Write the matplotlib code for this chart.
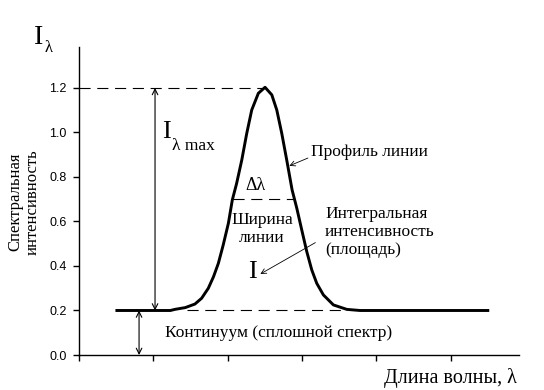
import matplotlib
matplotlib.use("Agg")
import matplotlib.pyplot as plt

# line profile (wavelength in tick units, intensity)
wave = [0.51, 1.23, 1.29, 1.43, 1.56, 1.65, 1.74, 1.81, 1.875, 1.94, 2.01, 2.063,
        2.12, 2.19, 2.257, 2.324, 2.413, 2.503, 2.594, 2.661, 2.728, 2.795, 2.867,
        2.93, 2.997, 3.065, 3.132, 3.199, 3.288, 3.423, 3.603, 3.78, 5.50]
intensity = [0.20, 0.20, 0.205, 0.213, 0.229, 0.255, 0.30, 0.352, 0.412, 0.494, 0.592, 0.697,
             0.77, 0.876, 0.996, 1.101, 1.176, 1.203, 1.169, 1.101, 0.996, 0.876, 0.742,
             0.66, 0.562, 0.464, 0.382, 0.322, 0.27, 0.225, 0.205, 0.20, 0.20]

y_ticks = [0.0, 0.2, 0.4, 0.6, 0.8, 1.0, 1.2]
y_tick_labels = ["0.0", "0.2", "0.4", "0.6", "0.8", "1.0", "1.2"]
x_ticks = [0, 1, 2, 3, 4, 5]

continuum = 0.2
peak = 1.2
half_level = 0.7

SERIF = "Liberation Serif"
SANS = "Liberation Sans"

W, H = 544, 390
fig = plt.figure(figsize=(W / 100, H / 100), dpi=100)
ax = fig.add_axes([79 / W, 35 / H, 440 / W, 308 / H])


def fpos(px, py):
    return px / W, 1 - py / H


ax.plot(wave, intensity, color="black", lw=2.1, solid_joinstyle="round")

dash = (0, (10, 6))
ax.plot([0, 2.50], [peak, peak], color="black", lw=0.8, linestyle=dash)
ax.plot([2.07, 2.88], [half_level, half_level], color="black", lw=0.8, linestyle=dash)
ax.plot([1.45, 3.60], [continuum, continuum], color="black", lw=0.8, linestyle=dash)

ax.set_xlim(0, 5.92)
ax.set_ylim(0, 1.384)
ax.set_xticks(x_ticks)
ax.set_xticklabels([])
ax.set_yticks(y_ticks)
ax.set_yticklabels(y_tick_labels, fontfamily=SANS, fontsize=9)
ax.tick_params(direction="out", length=4, width=1, pad=5)
for side in ("top", "right"):
    ax.spines[side].set_visible(False)
for side in ("left", "bottom"):
    ax.spines[side].set_linewidth(1)

arrow = dict(arrowstyle="<->", color="black", lw=0.8, shrinkA=0, shrinkB=0,
             mutation_scale=10)
ax.annotate("", xy=(1.023, peak), xytext=(1.023, continuum), arrowprops=arrow)
ax.annotate("", xy=(0.808, continuum), xytext=(0.808, 0.0), arrowprops=arrow)

pointer = dict(arrowstyle="->", color="black", lw=0.6, shrinkA=0, shrinkB=0,
               mutation_scale=9)
ax.annotate("", xy=(2.83, 0.85), xytext=(3.08, 0.885), arrowprops=pointer)
ax.annotate("", xy=(2.44, 0.364), xytext=(3.18, 0.505), arrowprops=pointer)

# labels
fig.text(*fpos(34, 37), "I", fontfamily=SERIF, fontsize=20, va="center", ha="left")
fig.text(*fpos(45, 48), "λ", fontfamily=SERIF, fontsize=12, va="center", ha="left")

fig.text(*fpos(162, 132), "I", fontfamily=SERIF, fontsize=19, va="center", ha="left")
fig.text(*fpos(172, 146), "λ max", fontfamily=SERIF, fontsize=12.5, va="center", ha="left")

fig.text(*fpos(255, 185), "Δλ", fontfamily=SERIF, fontsize=13, va="center", ha="center")
fig.text(*fpos(262, 229), "Ширина\nлинии", fontfamily=SERIF, fontsize=12.5,
         va="center", ha="center", linespacing=1.15)
fig.text(*fpos(252, 272), "I", fontfamily=SERIF, fontsize=19, va="center", ha="center")

fig.text(*fpos(311, 152), "Профиль линии", fontfamily=SERIF, fontsize=12.5,
         va="center", ha="left")
fig.text(*fpos(325, 232), "Интегральная\nинтенсивность\n(площадь)", fontfamily=SERIF,
         fontsize=12.5, va="center", ha="left", linespacing=1.15)
fig.text(*fpos(165, 333), "Континуум (сплошной спектр)", fontfamily=SERIF,
         fontsize=12.5, va="center", ha="left")

fig.text(*fpos(517, 378), "Длина волны, λ", fontfamily=SERIF, fontsize=14.5,
         va="center", ha="right")
fig.text(*fpos(24, 202), "Спектральная\nинтенсивность", fontfamily=SERIF,
         fontsize=12, va="center", ha="center", rotation=90, linespacing=1.1)

fig.savefig("out.png", dpi=100)
